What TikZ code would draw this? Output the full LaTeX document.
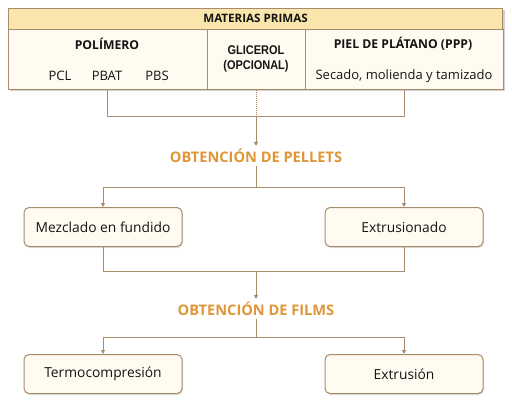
\documentclass[tikz,border=0pt]{standalone}
\usepackage{fontspec}
\setmainfont{Open Sans}
\newfontfamily\glfont{Liberation Sans}
\usetikzlibrary{arrows.meta,shadows,calc}
\definecolor{lnc}{RGB}{168,138,108}
\definecolor{hdrfill}{RGB}{250,229,172}
\definecolor{boxfill}{RGB}{255,251,240}
\definecolor{orng}{RGB}{222,150,55}
\definecolor{txt}{RGB}{20,20,20}
\tikzset{
  cell/.style={draw=lnc, line width=1pt, fill=boxfill, minimum height=60pt, inner sep=0pt, text=txt},
  hdrcell/.style={draw=lnc, line width=1pt, fill=hdrfill, minimum width=494pt, minimum height=21pt, inner sep=0pt, font=\bfseries\fontsize{11.6}{13}\selectfont, text=txt},
  procbox/.style={draw=lnc, line width=1pt, fill=boxfill, rounded corners=5pt, minimum width=158pt, minimum height=39pt, inner sep=0pt, font=\fontsize{13.8}{15}\selectfont, text=txt, drop shadow={shadow xshift=1pt, shadow yshift=-1.5pt, opacity=0.25}},
  stage/.style={text=orng, font=\bfseries\fontsize{14.6}{16}\selectfont, inner sep=1pt},
  conn/.style={draw=lnc, line width=1pt},
  arr/.style={conn, -{Triangle[length=4pt,width=4pt]}},
  lbl/.style={inner sep=0pt, text=txt},
}
\begin{document}
\begin{tikzpicture}[x=1pt,y=-1pt]
\useasboundingbox (0,0) rectangle (512,400);
% top table
\fill[black, opacity=0.18] (10,10) rectangle (505,91);
\node[hdrcell] (hdr) at (255.5,18.5) {MATERIAS PRIMAS};
\node[cell, minimum width=199pt] (poly) at (107.5,59) {};
\node[cell, minimum width=98pt] (glic) at (256,59) {};
\node[cell, minimum width=198pt] (piel) at (404,59) {};
\node[lbl, font=\bfseries\fontsize{12.2}{14}\selectfont] (polyt) at (107,44) {POLÍMERO};
\node[lbl, font=\fontsize{13}{15}\selectfont] (pcl) at (60,76) {PCL};
\node[lbl, font=\fontsize{13}{15}\selectfont] (pbat) at (107,76) {PBAT};
\node[lbl, font=\fontsize{13}{15}\selectfont] (pbs) at (157,76) {PBS};
\node[lbl, font=\glfont\bfseries\fontsize{12.6}{15}\selectfont] (glict) at (256,59) {\scalebox{0.87}[1]{\begin{tabular}{@{}c@{}}GLICEROL\\(OPCIONAL)\end{tabular}}};
\node[lbl, font=\bfseries\fontsize{12.2}{14}\selectfont] (pielt) at (403,44) {PIEL DE PLÁTANO (PPP)};
\node[lbl, font=\fontsize{13}{15}\selectfont] (pield) at (404,76) {Secado, molienda y tamizado};
% stage 1
\coordinate (j1) at (256,116);
\node[stage] (pel) at (256,156) {OBTENCIÓN DE PELLETS};
\draw[conn] (poly.south) |- (j1);
\draw[conn] (piel.south) |- (j1);
\draw[conn, densely dotted] (glic.south) -- (j1);
\draw[arr] (j1) -- ($(pel.north)+(0,-2)$);
\node[procbox] (mez) at (103,227) {Mezclado en fundido};
\node[procbox] (ext) at (404,227) {Extrusionado};
\coordinate (j2) at (256,187);
\draw[conn] ($(pel.south)+(0,2)$) -- (j2);
\draw[arr] (j2) -| (mez.north);
\draw[arr] (j2) -| (ext.north);
% stage 2
\coordinate (j3) at (256,271);
\node[stage] (fil) at (256,309) {OBTENCIÓN DE FILMS};
\draw[conn] (mez.south) |- (j3);
\draw[conn] (ext.south) |- (j3);
\draw[arr] (j3) -- ($(fil.north)+(0,-2)$);
\node[procbox] (ter) at (103,374) {Termocompresión};
\node[procbox] (exf) at (404,374) {Extrusión};
\coordinate (j4) at (256,337);
\draw[conn] ($(fil.south)+(0,2)$) -- (j4);
\draw[arr] (j4) -| (ter.north);
\draw[arr] (j4) -| (exf.north);
\end{tikzpicture}
\end{document}
